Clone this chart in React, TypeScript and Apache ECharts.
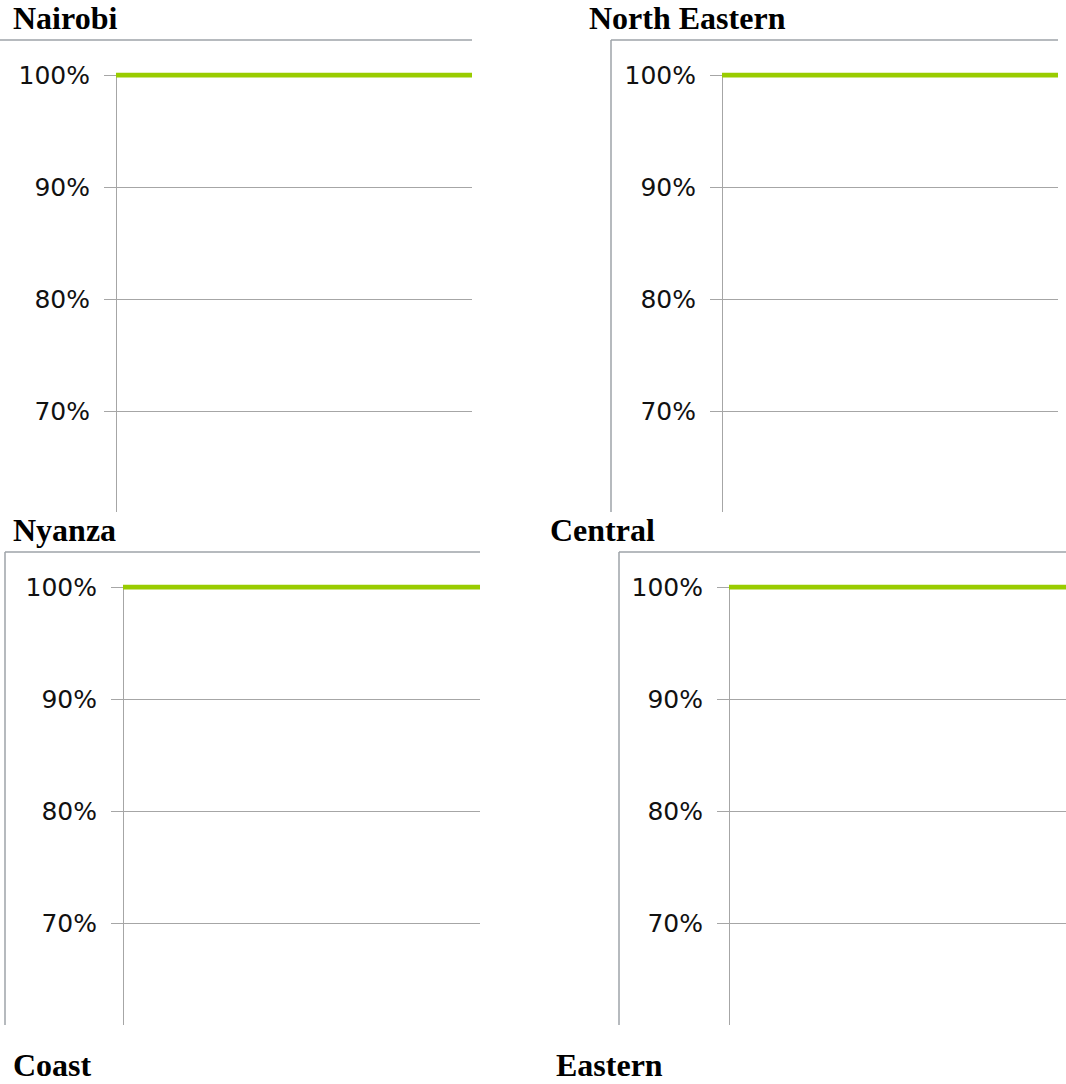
import React, { useEffect, useRef } from "react";
import * as echarts from "echarts";

// ---- data ----
const regions = ["Nairobi", "North Eastern", "Nyanza", "Central", "Coast", "Eastern"];
const periods = ["Start", "End"];
const nairobiValues = [1.0, 1.0];
const northEasternValues = [1.0, 1.0];
const nyanzaValues = [1.0, 1.0];
const centralValues = [1.0, 1.0];
const yTicks = [0.6, 0.7, 0.8, 0.9, 1.0];
const yTickLabels = ["", "70%", "80%", "90%", "100%"];

// ---- styles ----
const GREEN = "#99cc00";
const GRID_GRAY = "#a6a6a6";
const FRAME_GRAY = "#9ea3a8";
const LABEL_FONT = "DejaVu Sans";
const TITLE_FONT = "Liberation Serif";

type Panel = {
  values: number[];
  box: { left: number; top: number; width: number; height: number };
  grid: { left: number; top: number; right: number };
};

const panels: Panel[] = [
  { values: nairobiValues, box: { left: 0, top: 0, width: 472, height: 512 }, grid: { left: 116, top: 75, right: 0 } },
  { values: northEasternValues, box: { left: 560, top: 0, width: 498, height: 512 }, grid: { left: 162, top: 75, right: 0 } },
  { values: nyanzaValues, box: { left: 0, top: 512, width: 480, height: 513 }, grid: { left: 123, top: 75, right: 0 } },
  { values: centralValues, box: { left: 540, top: 512, width: 526, height: 513 }, grid: { left: 189, top: 75, right: 0 } },
];

const titlePos: [number, number][] = [
  [13, 18],
  [589, 18],
  [13, 530],
  [550, 530],
  [13, 1065],
  [556, 1065],
];

const frameLines: [number, number, number, number][] = [
  [0, 40, 472, 40],
  [611, 40, 1058, 40],
  [611, 40, 611, 512],
  [5, 552, 480, 552],
  [5, 552, 5, 1025],
  [619, 552, 1066, 552],
  [619, 552, 619, 1025],
];

const PLOT_H = 448; // 60%..100%
const EXTRA = 20;

function Background() {
  const ref = useRef<HTMLDivElement>(null);
  useEffect(() => {
    if (!ref.current) return;
    const chart = echarts.init(ref.current, undefined, { renderer: "svg" });
    const graphic: any[] = [];
    regions.forEach((name, i) => {
      graphic.push({
        type: "text",
        x: titlePos[i][0],
        y: titlePos[i][1],
        style: {
          text: name,
          fontFamily: TITLE_FONT,
          fontWeight: "bold",
          fontSize: 32,
          lineHeight: 28,
          fill: "#000",
          verticalAlign: "middle",
          align: "left",
        },
      });
    });
    frameLines.forEach(([x1, y1, x2, y2]) => {
      graphic.push({
        type: "line",
        shape: { x1, y1, x2, y2 },
        style: { stroke: FRAME_GRAY, lineWidth: 1.5 },
      });
    });
    chart.setOption({ animation: false, graphic });
    return () => chart.dispose();
  }, []);
  return <div ref={ref} style={{ position: "absolute", left: 0, top: 0, width: 1066, height: 1084 }} />;
}

function PanelChart({ panel }: { panel: Panel }) {
  const ref = useRef<HTMLDivElement>(null);
  const innerH = panel.grid.top + PLOT_H + EXTRA;
  useEffect(() => {
    if (!ref.current) return;
    const chart = echarts.init(ref.current, undefined, { renderer: "svg" });
    chart.setOption({
      animation: false,
      grid: { left: panel.grid.left, right: panel.grid.right, top: panel.grid.top, bottom: EXTRA, containLabel: false },
      xAxis: {
        type: "category",
        data: periods,
        boundaryGap: false,
        axisLine: { show: false },
        axisTick: { show: false },
        axisLabel: { show: false },
        splitLine: { show: false },
      },
      yAxis: {
        type: "value",
        min: yTicks[0],
        max: yTicks[yTicks.length - 1],
        interval: 0.1,
        axisLine: { show: true, lineStyle: { color: GRID_GRAY, width: 1 } },
        axisTick: { show: true, length: 12, lineStyle: { color: GRID_GRAY, width: 1 } },
        axisLabel: {
          margin: 26,
          fontFamily: LABEL_FONT,
          fontSize: 25,
          color: "#111",
          padding: [4, 0, 0, 0],
          formatter: (v: number) => {
            const idx = yTicks.findIndex((t) => Math.abs(t - v) < 1e-6);
            return idx >= 0 ? yTickLabels[idx] : "";
          },
        },
        splitLine: { show: true, lineStyle: { color: GRID_GRAY, width: 1 } },
      },
      series: [
        {
          type: "line",
          data: panel.values,
          symbol: "none",
          lineStyle: { color: GREEN, width: 5 },
          itemStyle: { color: GREEN },
        },
      ],
    });
    return () => chart.dispose();
  }, []);
  return (
    <div
      style={{
        position: "absolute",
        left: panel.box.left,
        top: panel.box.top,
        width: panel.box.width,
        height: panel.box.height,
        overflow: "hidden",
      }}
    >
      <div ref={ref} style={{ width: panel.box.width, height: innerH }} />
    </div>
  );
}

export default function App() {
  return (
    <div style={{ position: "absolute", left: 0, top: 0, width: 1066, height: 1084, background: "#fff", overflow: "hidden" }}>
      <Background />
      {panels.map((p, i) => (
        <PanelChart key={i} panel={p} />
      ))}
    </div>
  );
}
